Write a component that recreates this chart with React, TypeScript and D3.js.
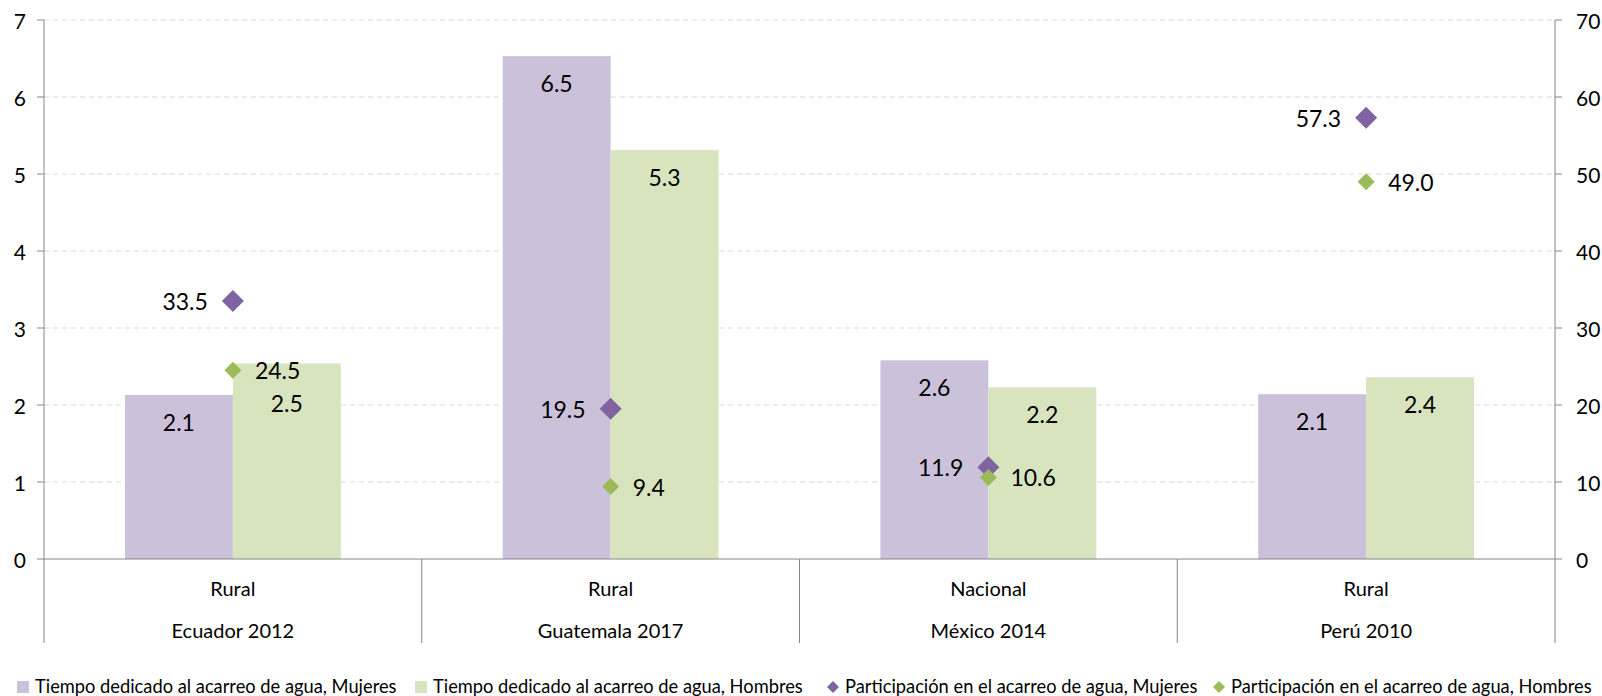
import React from "react";
import * as d3 from "d3";

const countries = ["Ecuador 2012", "Guatemala 2017", "México 2014", "Perú 2010"];
const areas = ["Rural", "Rural", "Nacional", "Rural"];
const tiempoMujeres = [2.13, 6.53, 2.58, 2.14];
const tiempoHombres = [2.54, 5.31, 2.23, 2.36];
const partMujeres = [33.5, 19.5, 11.9, 57.3];
const partHombres = [24.5, 9.4, 10.6, 49.0];
const leftTicks = [0, 1, 2, 3, 4, 5, 6, 7];
const rightTicks = [0, 10, 20, 30, 40, 50, 60, 70];
const legendLabels = [
  "Tiempo dedicado al acarreo de agua, Mujeres",
  "Tiempo dedicado al acarreo de agua, Hombres",
  "Participación en el acarreo de agua, Mujeres",
  "Participación en el acarreo de agua, Hombres",
];

const purpleBar = "#ccc1da";
const greenBar = "#d7e4bd";
const purpleDot = "#8064a2";
const greenDot = "#9bbb59";
const axisColor = "#868686";
const font = "Lato, 'Open Sans', sans-serif";

const width = 1602;
const height = 696;
const margin = { top: 20, right: 47, bottom: 137, left: 44 };

const diamond = (cx: number, cy: number, r: number) =>
  `M${cx},${cy - r}L${cx + r},${cy}L${cx},${cy + r}L${cx - r},${cy}Z`;

const App: React.FC = () => {
  const x0 = d3.scaleBand<string>().domain(countries).range([margin.left, width - margin.right]);
  const x1 = d3.scaleBand<string>().domain(["M", "H"]).range([0, x0.bandwidth()]).paddingOuter(0.75);
  const yL = d3.scaleLinear().domain([0, 7]).range([height - margin.bottom, margin.top]);
  const yR = d3.scaleLinear().domain([0, 70]).range([height - margin.bottom, margin.top]);
  const base = yL(0);
  const fmt = d3.format(".1f");
  // Ecuador's male label was nudged down in the original to clear the marker
  const labelNudge = (i: number, s: string) => (i === 0 && s === "H" ? 13 : 0);

  const legendX = [17, 415, 827, 1213];

  return (
    <svg width={width} height={height} style={{ position: "absolute", left: 0, top: 0 }} fontFamily={font}>
      <rect width={width} height={height} fill="#fff" />
      {leftTicks.slice(1).map((t) => (
        <line key={t} x1={margin.left} x2={width - margin.right} y1={yL(t)} y2={yL(t)}
          stroke="#d9d9d9" strokeDasharray="5,4" />
      ))}
      {countries.map((c, i) => {
        const bx = x0(c)!;
        return (
          <g key={c}>
            <rect x={bx + x1("M")!} width={x1.bandwidth()} y={yL(tiempoMujeres[i])}
              height={base - yL(tiempoMujeres[i])} fill={purpleBar} />
            <rect x={bx + x1("H")!} width={x1.bandwidth()} y={yL(tiempoHombres[i])}
              height={base - yL(tiempoHombres[i])} fill={greenBar} />
            <text x={bx + x1("M")! + x1.bandwidth() / 2} y={yL(tiempoMujeres[i]) + 27 + labelNudge(i, "M")}
              textAnchor="middle" dominantBaseline="central" fontSize={23}>{fmt(tiempoMujeres[i])}</text>
            <text x={bx + x1("H")! + x1.bandwidth() / 2} y={yL(tiempoHombres[i]) + 27 + labelNudge(i, "H")}
              textAnchor="middle" dominantBaseline="central" fontSize={23}>{fmt(tiempoHombres[i])}</text>
          </g>
        );
      })}
      {countries.map((c, i) => {
        const cx = x0(c)! + x0.bandwidth() / 2;
        return (
          <g key={c + "p"}>
            <path d={diamond(cx, yR(partMujeres[i]), 11)} fill={purpleDot} />
            <path d={diamond(cx, yR(partHombres[i]), 8.5)} fill={greenDot} />
            <text x={cx - 25} y={yR(partMujeres[i])} textAnchor="end" dominantBaseline="central"
              fontSize={23}>{fmt(partMujeres[i])}</text>
            <text x={cx + 22} y={yR(partHombres[i])} textAnchor="start" dominantBaseline="central"
              fontSize={23}>{fmt(partHombres[i])}</text>
          </g>
        );
      })}
      {/* axes */}
      <line x1={margin.left} x2={margin.left} y1={margin.top} y2={643} stroke={axisColor} />
      <line x1={width - margin.right} x2={width - margin.right} y1={margin.top} y2={643} stroke={axisColor} />
      <line x1={margin.left} x2={width - margin.right} y1={base} y2={base} stroke={axisColor} />
      {countries.slice(1).map((c) => (
        <line key={c} x1={x0(c)!} x2={x0(c)!} y1={base} y2={643} stroke={axisColor} />
      ))}
      {leftTicks.map((t) => (
        <g key={t}>
          <line x1={margin.left - 7} x2={margin.left} y1={yL(t)} y2={yL(t)} stroke={axisColor} />
          <text x={margin.left - 18} y={yL(t)} textAnchor="end" dominantBaseline="central" fontSize={21}>{t}</text>
        </g>
      ))}
      {rightTicks.map((t) => (
        <g key={t}>
          <line x1={width - margin.right} x2={width - margin.right + 7} y1={yR(t)} y2={yR(t)} stroke={axisColor} />
          <text x={width - margin.right + 21} y={yR(t)} textAnchor="start" dominantBaseline="central" fontSize={21}>{t}</text>
        </g>
      ))}
      {countries.map((c, i) => {
        const cx = x0(c)! + x0.bandwidth() / 2;
        return (
          <g key={c + "l"}>
            <text x={cx} y={588} textAnchor="middle" dominantBaseline="central" fontSize={20}>{areas[i]}</text>
            <text x={cx} y={630} textAnchor="middle" dominantBaseline="central" fontSize={20}>{c}</text>
          </g>
        );
      })}
      {/* legend */}
      {legendLabels.map((l, i) => {
        const lx = legendX[i];
        const color = [purpleBar, greenBar, purpleDot, greenDot][i];
        return (
          <g key={l}>
            {i < 2 ? (
              <rect x={lx} y={681} width={12} height={12} fill={color} />
            ) : (
              <path d={diamond(lx + 6, 687, 6)} fill={color} />
            )}
            <text x={lx + 18} y={686} dominantBaseline="central" fontSize={18.3}>{l}</text>
          </g>
        );
      })}
    </svg>
  );
};

export default App;
